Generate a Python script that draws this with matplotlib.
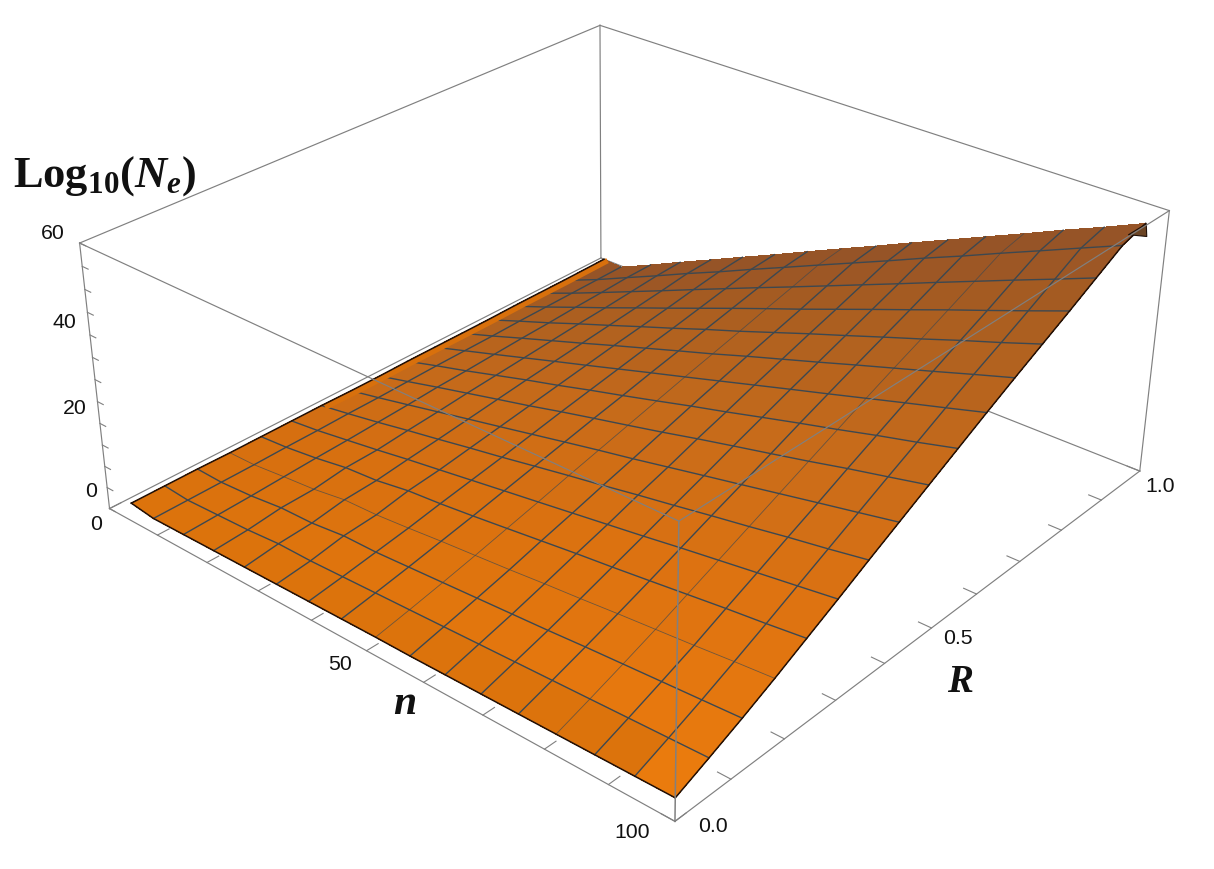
import numpy as np
import matplotlib
matplotlib.use('Agg')
import matplotlib.pyplot as plt
from matplotlib.colors import LinearSegmentedColormap
from mpl_toolkits.mplot3d.art3d import Poly3DCollection

W, H = 1214, 869

# values
n_vals = [5, 9.5, 15.6, 21.6, 27.6, 33.7, 39.7, 45.7, 51.8, 57.8, 63.8, 69.8, 75.9, 81.9, 87.9, 94, 100]
R_vals = [0, .059, .118, .177, .236, .295, .354, .413, .472, .531, .59, .649, .708, .767, .826, .885, .94]
# the n = 0 side of the surface is a bit slanted
n_left = [5, 4.8, 4.6, 4.5, 4.3, 4.1, 3.9, 3.8, 3.6, 3.4, 3.2, 3.1, 2.9, 2.7, 2.5, 2.4, 2]
R_left_end = .985
z_table = [
    [4.4, 3.6, 3.7, 3.8, 3.9, 4.0, 4.1, 4.2, 4.3, 4.3, 4.4, 4.5, 4.6, 4.7, 4.8, 4.9, 5.0],
    [4.2, 3.7, 4.0, 4.3, 4.9, 4.9, 5.2, 5.5, 5.8, 6.1, 6.4, 6.7, 7.0, 7.3, 7.6, 7.9, 8.2],
    [4.0, 3.8, 4.3, 5.2, 5.4, 6.3, 6.4, 6.9, 7.4, 7.9, 8.4, 8.9, 9.5, 10, 10.5, 11, 11.5],
    [3.8, 3.9, 4.7, 5.4, 6.6, 6.9, 7.6, 8.4, 9.1, 9.8, 10.6, 11.3, 12.1, 12.8, 13.5, 14.3, 15],
    [3.6, 4.1, 5.1, 6.4, 7, 8.3, 9, 9.9, 10.9, 11.9, 12.9, 13.8, 14.8, 15.8, 16.8, 17.7, 18.7],
    [3.4, 4.2, 5.4, 6.6, 7.9, 9.1, 10.3, 11.5, 12.7, 13.9, 15.1, 16.3, 17.6, 18.8, 20, 21.2, 22.4],
    [3.2, 4.4, 5.8, 7.3, 8.7, 10.2, 11.6, 13.1, 14.6, 16, 17.5, 18.9, 20.4, 21.8, 23.3, 24.7, 26.2],
    [3, 4.5, 6.2, 7.9, 9.6, 11.3, 13, 14.7, 16.4, 18, 19.7, 21.4, 23.1, 24.8, 26.5, 28.2, 29.9],
    [2.8, 4.7, 6.7, 8.6, 10.5, 12.4, 14.4, 16.3, 18.2, 20.1, 22.1, 24, 25.9, 27.8, 29.8, 31.7, 33.6],
    [2.7, 4.9, 7, 9.2, 11.4, 13.5, 15.7, 17.8, 20, 22.2, 24.3, 26.5, 28.7, 30.8, 33, 35.1, 37.3],
    [2.5, 5, 7.4, 9.8, 12.2, 14.6, 17, 19.4, 21.8, 24.2, 26.6, 29, 31.4, 33.8, 36.2, 38.6, 41],
    [2.4, 5.1, 7.8, 10.4, 13, 15.7, 18.3, 20.9, 23.5, 26.2, 28.8, 31.4, 34.1, 36.7, 39.3, 42, 44.6],
    [2.2, 5.3, 8.1, 11, 13.8, 16.7, 19.5, 22.4, 25.2, 28.1, 31, 33.8, 36.7, 39.5, 42.4, 45.2, 48.1],
    [2.1, 5.4, 8.5, 11.5, 14.6, 17.7, 20.8, 23.9, 27, 30, 33.1, 36.2, 39.3, 42.4, 45.4, 48.5, 51.6],
    [1.9, 5.5, 8.8, 12.1, 15.4, 18.8, 22.1, 25.4, 28.7, 32, 35.3, 38.6, 42, 45.3, 48.6, 51.9, 55.2],
    [1.8, 5.6, 9.2, 12.7, 16.3, 19.8, 23.4, 26.9, 30.5, 34, 37.5, 41.1, 44.6, 48.2, 51.7, 55.3, 58.8],
    [1.5, 5.7, 9.3, 13, 16.6, 20.3, 23.9, 27.6, 31.3, 34.9, 38.6, 42.2, 45.9, 49.5, 53.2, 56.8, 60.5],
]
tip_n = [100, 100, 97.6]
tip_R = [.94, .945, .94]
tip_z = [60.5, 57.5, 57]
n_ticks = [0, 10, 20, 30, 40, 50, 60, 70, 80, 90, 100]
R_ticks = [0, .1, .2, .3, .4, .5, .6, .7, .8, .9, 1]
z_ticks = [0, 5, 10, 15, 20, 25, 30, 35, 40, 45, 50, 55, 60]

# where the box corners sit in the picture, used for the camera
corners_3d = [(0, 0, 0), (0, 0, 60), (100, 0, 0), (100, 0, 60), (100, 1, 0), (100, 1, 60), (0, 1, 0), (0, 1, 60)]
corners_px = [(110, 508), (79, 244), (674, 822), (680, 520), (1140, 471), (1169, 211), (601, 258), (600, 25)]

plt.rcParams['font.family'] = ['Liberation Sans']
plt.rcParams['mathtext.fontset'] = 'custom'
plt.rcParams['mathtext.rm'] = 'Liberation Serif:bold'
plt.rcParams['mathtext.it'] = 'Liberation Serif:italic:bold'
plt.rcParams['mathtext.bf'] = 'Liberation Serif:bold'

fig = plt.figure(figsize=(W / 100, H / 100), dpi=100)
ax = fig.add_axes([0, 0, 1, 1], projection='3d', computed_zorder=False)
ax.set_axis_off()
ax.apply_aspect()


def fit_camera():
    # 3x4 camera from the 8 corners, in the axes' own 2d coordinates
    inv = ax.transData.inverted()
    rows = []
    for (x, y, z), (px, py) in zip(corners_3d, corners_px):
        u, v = inv.transform((px, H - py))
        p = [x, y, z, 1]
        rows.append(p + [0, 0, 0, 0] + [-u * c for c in p])
        rows.append([0, 0, 0, 0] + p + [-v * c for c in p])
    P = np.linalg.svd(np.array(rows))[2][-1].reshape(3, 4)
    if P[2] @ np.array([50, .5, 30, 1]) < 0:
        P = -P
    return np.array([P[0], P[1], [0, 0, 0, -1], P[2]])


M = fit_camera()
ax.get_proj = lambda: M

N, R = np.meshgrid(n_vals, R_vals)
N[:, 0] = n_left
R[-1, 0] = R_left_end
Z = np.array(z_table)

# surface colours: orange near the floor, brown towards R = 1
ramp = LinearSegmentedColormap.from_list('ramp', ['#dc730c', '#d66f10', '#c56a1a', '#ac5f20', '#8f5029'])
cols = np.zeros(N.shape + (4,))
for j in range(N.shape[0]):
    for i in range(N.shape[1]):
        a, b = i / 16, j / 16
        c = np.array(ramp(b))
        # brighter patch near the front corner, not on the front row
        if j > 0 or i == 15:
            c[:3] = np.clip(c[:3] * (1 + .07 * a * max(0, 1 - 1.6 * b)), 0, 1)
        cols[j, i] = c

gray = '#808080'
mesh = '#3d4850'


def line3(p, q, z=1, lw=.85, c=gray):
    ax.plot([p[0], q[0]], [p[1], q[1]], [p[2], q[2]], color=c, lw=lw, zorder=z, clip_on=False)


# back of the box, behind the surface
line3((0, 1, 60), (0, 0, 60))
line3((0, 1, 60), (100, 1, 60))
line3((0, 1, 60), (0, 1, 0))
line3((0, 0, 0), (0, 1, 0))
line3((0, 1, 0), (100, 1, 0))

surf = ax.plot_surface(N, R, Z, facecolors=cols, rstride=1, cstride=1, shade=False,
                       linewidth=0, antialiased=False, zorder=2)
surf.set_clip_on(False)

# mesh, some lines come out fainter in the original
for j in range(1, 16):
    lw, al = (.6, .7) if j == 3 else (1.0, 1)
    ax.plot(N[j], R[j], Z[j], color=mesh, lw=lw, alpha=al, zorder=3, clip_on=False)
for i in range(1, 16):
    lw, al = (.6, .7) if i in (8, 13) else (1.0, 1)
    ax.plot(N[:, i], R[:, i], Z[:, i], color=mesh, lw=lw, alpha=al, zorder=3, clip_on=False)

# orange strip left showing along the n = 0 side
ax.plot(N[6:, 0] + .75, R[6:, 0], Z[6:, 0], color='#d8700c', lw=4, zorder=3.5, clip_on=False,
        solid_capstyle='butt')

# border
ax.plot(N[0], R[0], Z[0], color='#201008', lw=1.1, zorder=3.6, clip_on=False)
ax.plot(N[:, -1], R[:, -1], Z[:, -1], color='#201008', lw=1.1, zorder=3.6, clip_on=False)
ax.plot(N[:, 0], R[:, 0], Z[:, 0], color='#201008', lw=1.1, zorder=3.6, clip_on=False)

tip = Poly3DCollection([list(zip(tip_n, tip_R, tip_z))], facecolor='#6b4424', edgecolor='#201008', lw=.8, zorder=3.7)
tip.set_clip_on(False)
ax.add_collection3d(tip)

# front of the box, over the surface
line3((100, 0, 60), (0, 0, 60), 4)
line3((100, 0, 60), (100, 1, 60), 4)
line3((100, 0, 60), (100, 0, 0), 4, 1.1)
line3((0, 0, 60), (0, 0, 0), 4)
line3((100, 1, 60), (100, 1, 0), 4)
line3((0, 0, 0), (100, 0, 0), 4)
line3((100, 0, 0), (100, 1, 0), 4)

for v in n_ticks:
    line3((v, 0, 0), (v, .02, 0), 4, .8)
for v in R_ticks:
    line3((100, v, 0), (98, v, 0), 4, .8)
for v in z_ticks:
    line3((0, 0, v), (1.2, 0, v), 4, .8)


def label(x, y, s, **kw):
    fig.text(x / W, 1 - y / H, s, ha='center', va='center', **kw)


for x, y, s in [(53, 234, '60'), (64, 323, '40'), (75, 408, '20'), (91, 491, '0'), (96, 524, '0'),
                (340, 664, '50'), (632, 832, '100'), (713, 827, '0.0'), (958, 638, '0.5'), (1160, 487, '1.0')]:
    label(x, y, s, fontsize=15.3, color='#111111')

label(105, 176, r'$\mathrm{Log}_{\mathrm{10}}(N_e)$', fontsize=32, color='#111111')
label(405, 703, r'$n$', fontsize=30, color='#111111')
label(960, 682, r'$R$', fontsize=28, color='#111111')

fig.savefig('out.png', dpi=100)
